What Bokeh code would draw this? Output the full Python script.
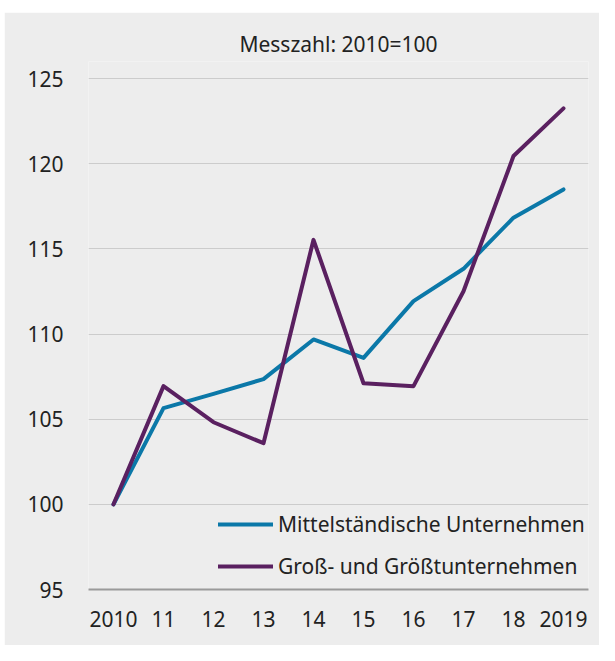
from bokeh.plotting import figure
from bokeh.models import Legend, LegendItem, Spacer, Range1d
from bokeh.layouts import column, row
from bokeh.embed import file_html
from bokeh.resources import INLINE

years = [2010, 2011, 2012, 2013, 2014, 2015, 2016, 2017, 2018, 2019]
year_labels = ["2010", "11", "12", "13", "14", "15", "16", "17", "18", "2019"]
mittel = [100.0, 105.65, 106.49, 107.35, 109.68, 108.6, 111.93, 113.83, 116.83, 118.49]
gross = [100.0, 106.94, 104.82, 103.59, 115.53, 107.11, 106.94, 112.51, 120.45, 123.25]
y_ticks = [95, 100, 105, 110, 115, 120, 125]
title_text = "Messzahl: 2010=100"
series_names = ["Mittelständische Unternehmen", "Groß- und Größtunternehmen"]

FONT = "Noto Sans"
TXT = "#222222"
BG = "#ededed"
TEAL = "#0b78a8"
PURPLE = "#5a2060"

p = figure(width=595, height=633, output_backend="svg", toolbar_location=None,
           x_range=Range1d(2009.5, 2019.5), y_range=Range1d(95, 126),
           min_border_left=84, min_border_right=11, min_border_top=49, min_border_bottom=56,
           background_fill_color=BG, border_fill_color=BG, outline_line_color=None)

p.title.text = title_text
p.title.align = "center"
p.title.text_font = FONT
p.title.text_font_size = "21px"
p.title.text_font_style = "normal"
p.title.text_color = TXT
p.title.standoff = 7

r1 = p.line(years, mittel, line_color=TEAL, line_width=4, line_cap="round", line_join="round")
r2 = p.line(years, gross, line_color=PURPLE, line_width=4, line_cap="round", line_join="round")

p.xgrid.visible = False
p.ygrid.grid_line_color = "#cccccc"
p.ygrid.grid_line_width = 1
p.ygrid.ticker = y_ticks

p.yaxis.ticker = y_ticks
p.yaxis.axis_line_color = None
p.yaxis.major_tick_line_color = None
p.yaxis.minor_tick_line_color = None
p.yaxis.major_tick_out = 0
p.yaxis.major_label_standoff = 25
p.yaxis.major_label_text_font = FONT
p.yaxis.major_label_text_font_size = "21px"
p.yaxis.major_label_text_color = TXT

p.xaxis.ticker = years
p.xaxis.major_label_overrides = {y: l for y, l in zip(years, year_labels)}
p.xaxis.axis_line_color = "#9a9a9a"
p.xaxis.axis_line_width = 2
p.xaxis.major_tick_line_color = None
p.xaxis.minor_tick_line_color = None
p.xaxis.major_tick_out = 0
p.xaxis.major_label_standoff = 21
p.xaxis.major_label_text_font = FONT
p.xaxis.major_label_text_font_size = "21px"
p.xaxis.major_label_text_color = TXT

legend = Legend(items=[LegendItem(label=series_names[0], renderers=[r1]),
                       LegendItem(label=series_names[1], renderers=[r2])],
                location=(130, 8), orientation="vertical",
                glyph_width=55, glyph_height=30, label_height=30, spacing=12,
                padding=0, margin=0, label_standoff=5,
                background_fill_alpha=0, border_line_alpha=0,
                label_text_font=FONT, label_text_font_size="21px", label_text_color=TXT)
p.add_layout(legend)

layout = row(Spacer(width=4, height=645), column(Spacer(width=595, height=12), p))
open("out.html", "w").write(file_html(layout, INLINE))
